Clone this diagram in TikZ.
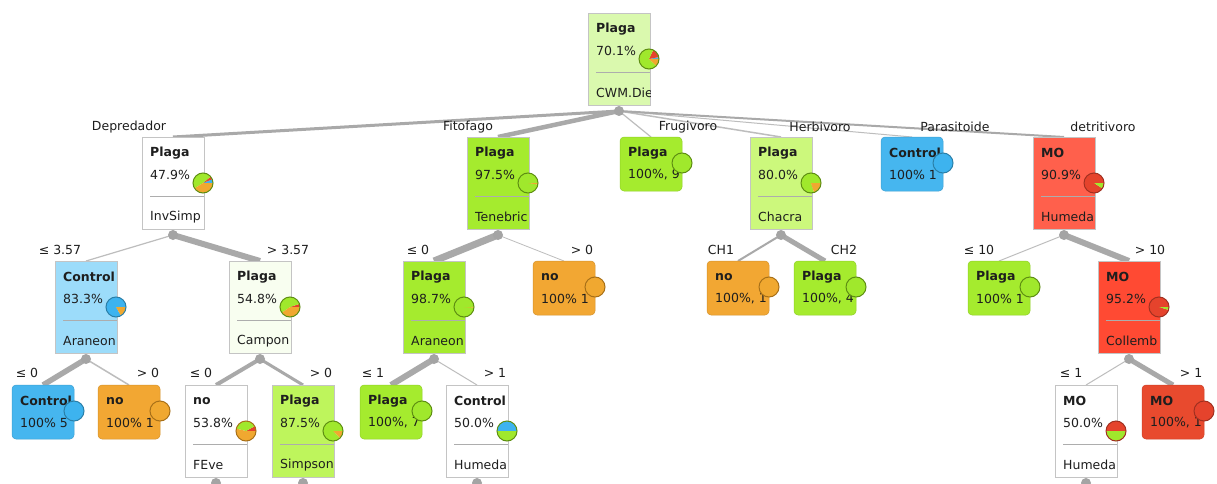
\documentclass[tikz,border=0pt]{standalone}
\usepackage{fontspec}
\setmainfont{DejaVu Sans}
\usetikzlibrary{calc}
\pgfdeclarelayer{bg}
\pgfsetlayers{bg,main}

\definecolor{boxline}{HTML}{C4C4C4}
\definecolor{sepcol}{HTML}{ADADAD}
\definecolor{txt}{HTML}{1E1E1E}
\definecolor{edgegray}{HTML}{A9A9A9}
\definecolor{edgelight}{HTML}{BDBDBD}
\definecolor{dotgray}{HTML}{A4A4A4}
\definecolor{rootfill}{HTML}{DAF9AE}
\definecolor{gfill}{HTML}{A5EB2E}
\definecolor{lgfill}{HTML}{BEF55C}
\definecolor{hfill}{HTML}{CCF87C}
\definecolor{palefill}{HTML}{F8FEF0}
\definecolor{bfill}{HTML}{46B6EF}
\definecolor{lbfill}{HTML}{9CDCFA}
\definecolor{ofill}{HTML}{F2A733}
\definecolor{mofillA}{HTML}{FF604C}
\definecolor{mofillB}{HTML}{FF4A33}
\definecolor{mofillC}{HTML}{E84A2E}
\definecolor{pgreen}{HTML}{A0E82C}
\definecolor{pblue}{HTML}{3DB3EF}
\definecolor{pred}{HTML}{E5432C}
\definecolor{porange}{HTML}{F0A830}
\definecolor{ogreen}{HTML}{5E8E12}
\definecolor{oblue}{HTML}{2A7FA8}
\definecolor{ored}{HTML}{A03020}
\definecolor{oorange}{HTML}{A87018}

\tikzset{
  innerbox/.style={draw=boxline, line width=0.8pt, minimum width=62pt, minimum height=92pt,
    anchor=north west, inner sep=0pt, outer sep=0pt},
  leafbox/.style={rounded corners=4pt, line width=0.5pt, minimum width=62pt, minimum height=54pt,
    anchor=north west, inner sep=0pt, outer sep=0pt},
  clabel/.style={font=\bfseries\fontsize{12.5}{15}\selectfont, anchor=west, inner sep=0pt, text=txt},
  ptext/.style={font=\fontsize{12.5}{15}\selectfont, anchor=west, inner sep=0pt, text=txt},
  elabel/.style={font=\fontsize{12.5}{15}\selectfont, inner sep=0pt, text=txt},
  sepline/.style={draw=sepcol, line width=0.8pt},
  edge/.style={draw=edgegray},
  thinedge/.style={draw=edgelight},
  dot/.style={circle, fill=dotgray, minimum size=10pt, inner sep=0pt},
}

% pie: name, center, outline colour, slices a/b/colour
\newcommand\piech[4]{%
  \coordinate (#1) at #2;
  \foreach \a/\b/\c in {#4} {\fill[\c] (#1) -- ++(\a:10pt) arc[start angle=\a, end angle=\b, radius=10pt] -- cycle;}
  \draw[#3, line width=1pt] (#1) circle[radius=10pt];
}
% inner box: name, x, y, fill, class, pct, attr, outline, slices
\newcommand\ibox[9]{%
  \node[innerbox, fill=#4] (#1) at (#2,#3) {};
  \begin{scope}
    \clip (#1.north west) rectangle (#1.south east);
    \node[clabel] (#1c) at ($(#1.north west)+(8,16)$) {#5};
    \node[ptext] (#1p) at ($(#1.north west)+(8,38)$) {#6};
    \draw[sepline] ($(#1.north west)+(8,59)$) -- ($(#1.north east)+(0,59)$);
    \node[ptext] (#1a) at ($(#1.north west)+(8,80)$) {#7};
  \end{scope}
  \node[dot] (#1d) at ($(#1.south)+(0,6)$) {};
  \piech{#1pie}{($(#1.north east)+(-1,46)$)}{#8}{#9}
}
% leaf box: name, x, y, fill, class, pct, outline, slices
\newcommand\lbox[8]{%
  \node[leafbox, fill=#4, draw=#4!88!black] (#1) at (#2,#3) {};
  \node[clabel] (#1c) at ($(#1.north west)+(8,16)$) {#5};
  \node[ptext] (#1p) at ($(#1.north west)+(8,38)$) {#6};
  \piech{#1pie}{($(#1.north east)+(0,26)$)}{#7}{#8}
}

\begin{document}
\begin{tikzpicture}[x=1pt, y=-1pt]
\useasboundingbox (0,0) rectangle (1217,484);
\clip (0,0) rectangle (1217,484);

% level 0
\ibox{n0}{588}{13}{rootfill}{Plaga}{70.1\%}{CWM.Die}{ogreen}{0/11/pblue,11/65/pred,65/317/pgreen,317/360/porange}
% level 1
\ibox{n1}{142}{137}{white}{Plaga}{47.9\%}{InvSimp}{ogreen}{0/22/pblue,22/40/pred,40/212/pgreen,212/360/porange}
\ibox{n2}{467}{137}{gfill}{Plaga}{97.5\%}{Tenebric}{ogreen}{0/351/pgreen,351/360/porange}
\lbox{n3}{620}{137}{gfill}{Plaga}{100\%, 9}{ogreen}{0/360/pgreen}
\ibox{n4}{750}{137}{hfill}{Plaga}{80.0\%}{Chacra}{ogreen}{0/288/pgreen,288/360/porange}
\lbox{n5}{881}{137}{bfill}{Control}{100\% 1}{oblue}{0/360/pblue}
\ibox{n6}{1033}{137}{mofillA}{MO}{90.9\%}{Humeda}{ored}{0/327/pred,327/360/pgreen}
% level 2
\ibox{n11}{55}{261}{lbfill}{Control}{83.3\%}{Araneon}{oblue}{0/300/pblue,300/360/porange}
\ibox{n12}{229}{261}{palefill}{Plaga}{54.8\%}{Campon}{ogreen}{0/18/pred,18/215/pgreen,215/360/porange}
\ibox{n21}{403}{261}{gfill}{Plaga}{98.7\%}{Araneon}{ogreen}{0/356/pgreen,356/360/porange}
\lbox{n22}{533}{261}{ofill}{no}{100\% 1}{oorange}{0/360/porange}
\lbox{n41}{707}{261}{ofill}{no}{100\%, 1}{oorange}{0/360/porange}
\lbox{n42}{794}{261}{gfill}{Plaga}{100\%, 4}{ogreen}{0/360/pgreen}
\lbox{n61}{968}{261}{gfill}{Plaga}{100\% 1}{ogreen}{0/360/pgreen}
\ibox{n62}{1098}{261}{mofillB}{MO}{95.2\%}{Collemb}{ored}{0/343/pred,343/360/pgreen}
% level 3
\lbox{n111}{12}{385}{bfill}{Control}{100\% 5}{oblue}{0/360/pblue}
\lbox{n112}{98}{385}{ofill}{no}{100\% 1}{oorange}{0/360/porange}
\ibox{n121}{185}{385}{white}{no}{53.8\%}{FEve}{oorange}{0/29/pred,29/166/pgreen,166/360/porange}
\ibox{n122}{272}{385}{lgfill}{Plaga}{87.5\%}{Simpson}{ogreen}{0/315/pgreen,315/360/porange}
\lbox{n211}{360}{385}{gfill}{Plaga}{100\%, 7}{ogreen}{0/360/pgreen}
\ibox{n212}{446}{385}{white}{Control}{50.0\%}{Humeda}{ogreen}{0/180/pblue,180/360/pgreen}
\ibox{n621}{1055}{385}{white}{MO}{50.0\%}{Humeda}{ored}{0/180/pred,180/360/pgreen}
\lbox{n622}{1142}{385}{mofillC}{MO}{100\%, 1}{ored}{0/360/pred}

% background and edges
\begin{pgfonlayer}{bg}
\fill[white] (0,0) rectangle (1217,484);
\draw[edge, line width=3pt]       (n0d.center) -- (n1.north);
\draw[edge, line width=4.5pt]     (n0d.center) -- (n2.north);
\draw[thinedge, line width=1.2pt] (n0d.center) -- (n3.north);
\draw[thinedge, line width=1.5pt] (n0d.center) -- (n4.north);
\draw[thinedge, line width=1pt]   (n0d.center) -- (n5.north);
\draw[edge, line width=2pt]       (n0d.center) -- (n6.north);
\draw[thinedge, line width=1.2pt] (n1d.center) -- (n11.north);
\draw[edge, line width=6pt]       (n1d.center) -- (n12.north);
\draw[edge, line width=7pt]       (n2d.center) -- (n21.north);
\draw[thinedge, line width=0.8pt] (n2d.center) -- (n22.north);
\draw[edge, line width=2pt]       (n4d.center) -- (n41.north);
\draw[edge, line width=5pt]       (n4d.center) -- (n42.north);
\draw[thinedge, line width=1pt]   (n6d.center) -- (n61.north);
\draw[edge, line width=6pt]       (n6d.center) -- (n62.north);
\draw[edge, line width=5.5pt]     (n11d.center) -- (n111.north);
\draw[thinedge, line width=1.5pt] (n11d.center) -- (n112.north);
\draw[edge, line width=4pt]       (n12d.center) -- (n121.north);
\draw[edge, line width=3pt]       (n12d.center) -- (n122.north);
\draw[edge, line width=6pt]       (n21d.center) -- (n211.north);
\draw[thinedge, line width=1pt]   (n21d.center) -- (n212.north);
\draw[thinedge, line width=1pt]   (n62d.center) -- (n621.north);
\draw[edge, line width=5pt]       (n62d.center) -- (n622.north);
\end{pgfonlayer}

% edge labels
\node[elabel] (e1) at (129,127) {Depredador};
\node[elabel] (e2) at (468,127) {Fitofago};
\node[elabel] (e3) at (688,127) {Frugivoro};
\node[elabel] (e4) at (820,127) {Herbivoro};
\node[elabel] (e5) at (955,127) {Parasitoide};
\node[elabel] (e6) at (1103,127) {detritivoro};
\node[elabel] (e11) at (60,250) {≤ 3.57};
\node[elabel] (e12) at (288,250) {> 3.57};
\node[elabel] (e21) at (418,250) {≤ 0};
\node[elabel] (e22) at (582,250) {> 0};
\node[elabel] (e41) at (721,250) {CH1};
\node[elabel] (e42) at (844,250) {CH2};
\node[elabel] (e61) at (979,250) {≤ 10};
\node[elabel] (e62) at (1150,250) {> 10};
\node[elabel] (e111) at (27,373) {≤ 0};
\node[elabel] (e112) at (148,373) {> 0};
\node[elabel] (e121) at (201,373) {≤ 0};
\node[elabel] (e122) at (321,373) {> 0};
\node[elabel] (e211) at (373,373) {≤ 1};
\node[elabel] (e212) at (495,373) {> 1};
\node[elabel] (e621) at (1071,373) {≤ 1};
\node[elabel] (e622) at (1191,373) {> 1};
\end{tikzpicture}
\end{document}
